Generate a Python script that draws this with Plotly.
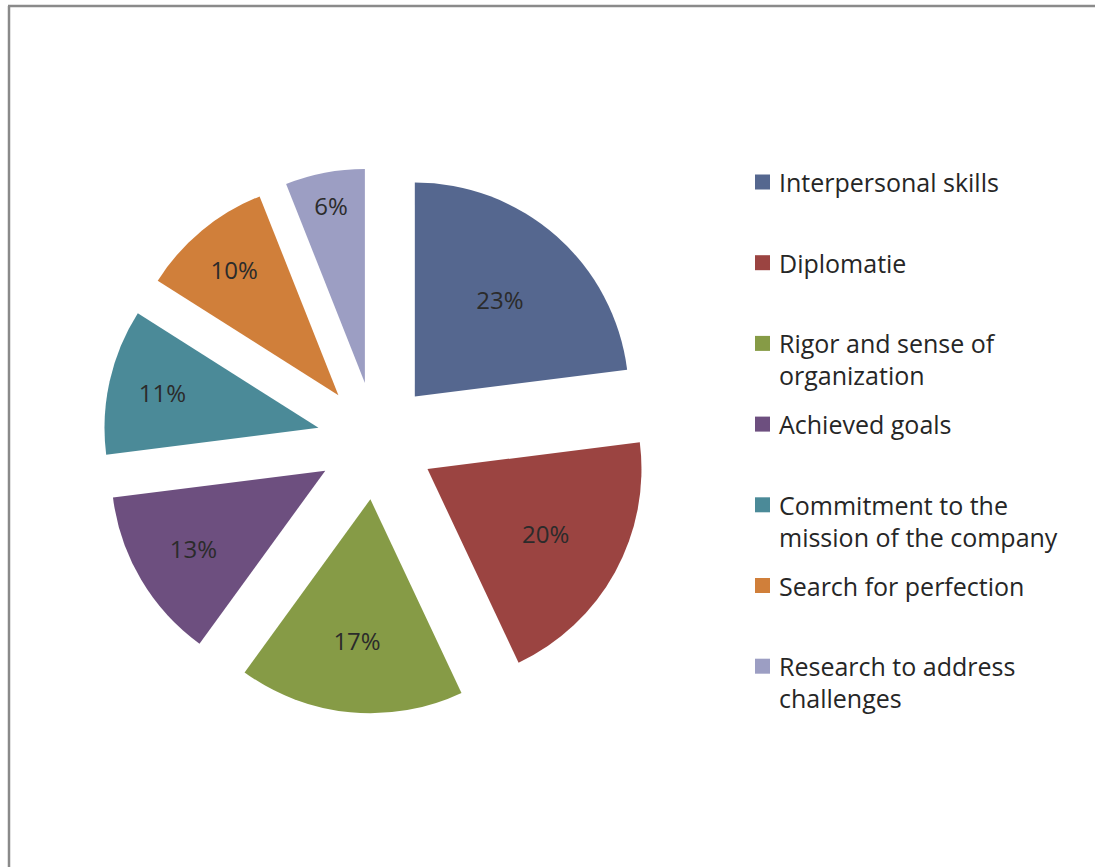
import plotly.graph_objects as go

# Share of each competency (percent)
categories = [
    "Interpersonal skills",
    "Diplomatie",
    "Rigor and sense of<br>organization",
    "Achieved goals",
    "Commitment to the<br>mission of the company",
    "Search for perfection",
    "Research to address<br>challenges",
]
shares = [23, 20, 17, 13, 11, 10, 6]
colors = ["#55678F", "#9B4441", "#869B46", "#6D4F7F", "#4B8A98", "#D07F3A", "#9C9EC3"]

W, H = 1095, 867
FONT = "Open Sans"

fig = go.Figure(
    go.Pie(
        labels=[c.replace("<br>", " ") for c in categories],
        values=shares,
        sort=False,
        direction="clockwise",
        rotation=0,
        pull=[0.275] * len(shares),
        marker=dict(colors=colors, line=dict(width=0)),
        texttemplate="%{percent:.0%}",
        textposition="inside",
        insidetextorientation="horizontal",
        textfont=dict(family=FONT, size=24, color="#2b2b2b"),
        domain=dict(x=[0.0941, 0.5925], y=[0.1770, 0.8064]),
        showlegend=False,
        hoverinfo="label+percent",
    )
)

# Legend drawn as colour squares plus text lines
shapes = []
annotations = []
legend_top = 182      # centre of first legend line, px from top
entry_step = 80.7     # spacing between legend entries, px
line_step = 32        # spacing between wrapped lines, px
for i, (cat, col) in enumerate(zip(categories, colors)):
    y0 = legend_top + i * entry_step
    shapes.append(dict(
        type="rect", xref="paper", yref="paper",
        x0=755 / W, x1=770 / W,
        y0=1 - (y0 + 7.5) / H, y1=1 - (y0 - 7.5) / H,
        fillcolor=col, line=dict(width=0),
    ))
    for j, line in enumerate(cat.split("<br>")):
        annotations.append(dict(
            text=line, xref="paper", yref="paper",
            x=777 / W, y=1 - (y0 + j * line_step) / H,
            xanchor="left", yanchor="middle", showarrow=False,
            font=dict(family=FONT, size=25, color="#262626"),
        ))

# Chart frame (top and left edges)
frame = dict(color="#8a8a8a", width=2.5)
shapes.append(dict(type="line", xref="paper", yref="paper",
                   x0=8 / W, x1=1.0, y0=1 - 6 / H, y1=1 - 6 / H, line=frame))
shapes.append(dict(type="line", xref="paper", yref="paper",
                   x0=9 / W, x1=9 / W, y0=1 - 6 / H, y1=0, line=frame))

fig.update_layout(
    width=W, height=H,
    margin=dict(l=0, r=0, t=0, b=0),
    paper_bgcolor="white",
    plot_bgcolor="white",
    shapes=shapes,
    annotations=annotations,
)

fig.write_html("out.html", config={"displayModeBar": False})
